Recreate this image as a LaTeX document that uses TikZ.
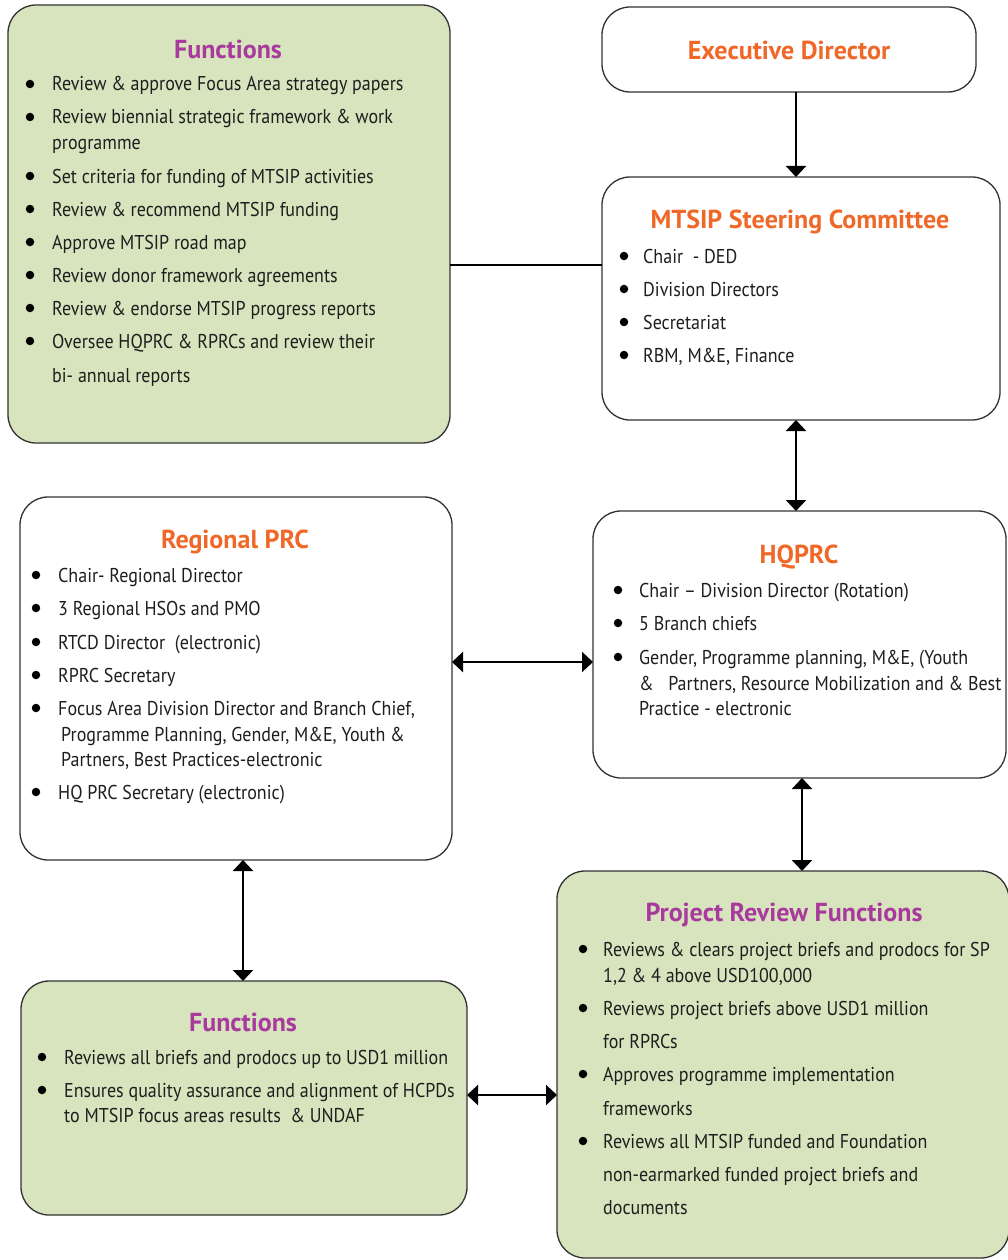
\documentclass[tikz,border=0pt]{standalone}
\usepackage{fontspec}
\setmainfont{PT Sans}
\newfontfamily\bodyfont[FakeStretch=0.9,Ligatures=TeX]{PT Sans}
\newfontfamily\titlefont[Ligatures=TeX]{PT Sans}
\usetikzlibrary{arrows.meta}
\definecolor{hdorange}{RGB}{240,104,40}
\definecolor{hdmag}{RGB}{168,58,158}
\definecolor{boxgreen}{RGB}{215,228,189}
\definecolor{edgegray}{RGB}{50,50,50}
\definecolor{bodyink}{RGB}{30,30,30}
\begin{document}
\begin{tikzpicture}[x=1pt,y=-1pt,
 panel/.style={draw=edgegray, line width=1.3pt, rounded corners=28pt, fill=white, anchor=north west, inner sep=0pt, outer sep=0pt},
 greenpanel/.style={panel, fill=boxgreen},
 ttl/.style={font=\titlefont\fontsize{26}{30}\selectfont\bfseries, inner sep=0pt},
 txt/.style={anchor=base west, inner sep=0pt, font=\bodyfont\fontsize{20}{24}\selectfont, text=bodyink},
 dot/.style={circle, fill=black, inner sep=0pt, minimum size=8.5pt},
 link/.style={line width=2.2pt, -{Triangle[width=20pt,length=11pt]}},
 dlink/.style={line width=2.2pt, {Triangle[width=20pt,length=11pt]}-{Triangle[width=20pt,length=11pt]}},
 plain/.style={line width=1.5pt},
]
\useasboundingbox (0,0) rectangle (1007,1260);

% ---- boxes ----
\node[greenpanel, minimum width=442pt, minimum height=438pt] (fun1) at (8,5) {};
\node[panel, minimum width=374pt, minimum height=85pt] (exec) at (602,7) {};
\node[panel, minimum width=398pt, minimum height=243pt] (sc) at (602,177) {};
\node[panel, minimum width=432pt, minimum height=363pt] (rprc) at (20,497) {};
\node[panel, minimum width=413pt, minimum height=267pt] (hq) at (593,511) {};
\node[greenpanel, minimum width=446pt, minimum height=234pt] (fun2) at (21,981) {};
\node[greenpanel, minimum width=452pt, minimum height=387pt] (prf) at (557,871) {};

% ---- connectors ----
\coordinate (vx1) at (796,0);
\coordinate (vx2) at (802,0);
\coordinate (vx3) at (243,0);
\coordinate (hy1) at (0,265);
\coordinate (hy2) at (0,662);
\coordinate (hy3) at (0,1095);
\draw[link] (exec.south -| vx1) -- (sc.north -| vx1);
\draw[dlink] (sc.south -| vx1) -- (hq.north -| vx1);
\draw[plain] (fun1.east |- hy1) -- (sc.west |- hy1);
\draw[dlink] (rprc.east |- hy2) -- (hq.west |- hy2);
\draw[dlink] (hq.south -| vx2) -- (prf.north -| vx2);
\draw[dlink] (rprc.south -| vx3) -- (fun2.north -| vx3);
\draw[dlink] (fun2.east |- hy3) -- (prf.west |- hy3);

% ---- Functions (top) ----
\node[ttl, text=hdmag] (fun1t) at (228,49) {Functions};
\node[dot] (f1d1) at (30,84) {};
\node[txt] (f1l1) at (52,91) {Review \& approve Focus Area strategy papers};
\node[dot] (f1d2) at (30,117) {};
\node[txt] (f1l2) at (52,124) {Review biennial strategic framework \& work};
\node[txt] (f1l3) at (52,150) {programme};
\node[dot] (f1d4) at (30,176) {};
\node[txt] (f1l4) at (52,183) {Set criteria for funding of MTSIP activities};
\node[dot] (f1d5) at (30,209) {};
\node[txt] (f1l5) at (52,216) {Review \& recommend MTSIP funding};
\node[dot] (f1d6) at (30,242) {};
\node[txt] (f1l6) at (52,249) {Approve MTSIP road map};
\node[dot] (f1d7) at (30,275) {};
\node[txt] (f1l7) at (52,282) {Review donor framework agreements};
\node[dot] (f1d8) at (30,308) {};
\node[txt] (f1l8) at (52,315) {Review \& endorse MTSIP progress reports};
\node[dot] (f1d9) at (30,341) {};
\node[txt] (f1l9) at (52,348) {Oversee HQPRC \& RPRCs and review their};
\node[txt] (f1l10) at (52,382) {bi- annual reports};

% ---- Executive Director ----
\node[ttl, text=hdorange] (exect) at (789,50) {Executive Director};

% ---- Steering Committee ----
\node[ttl, text=hdorange] (sct) at (800,222) {MTSIP Steering Committee};
\node[dot] (scd1) at (624,256) {};
\node[txt] (scl1) at (643,263) {Chair\ \ - DED};
\node[dot] (scd2) at (624,289) {};
\node[txt] (scl2) at (643,296) {Division Directors};
\node[dot] (scd3) at (624,322) {};
\node[txt] (scl3) at (643,329) {Secretariat};
\node[dot] (scd4) at (624,355) {};
\node[txt] (scl4) at (643,362) {RBM, M\&E, Finance};

% ---- Regional PRC ----
\node[ttl, text=hdorange] (rprct) at (235,542) {Regional PRC};
\node[dot] (rd1) at (36,575) {};
\node[txt] (rl1) at (58,582) {Chair- Regional Director};
\node[dot] (rd2) at (36,608) {};
\node[txt] (rl2) at (58,615) {3 Regional HSOs and PMO};
\node[dot] (rd3) at (36,642) {};
\node[txt] (rl3) at (58,649) {RTCD Director\ \ (electronic)};
\node[dot] (rd4) at (36,675) {};
\node[txt] (rl4) at (58,682) {RPRC Secretary};
\node[dot] (rd5) at (36,708) {};
\node[txt] (rl5) at (58,715) {Focus Area Division Director and Branch Chief,};
\node[txt] (rl6) at (61,741) {Programme Planning, Gender, M\&E, Youth \&};
\node[txt] (rl7) at (61,766) {Partners, Best Practices-electronic};
\node[dot] (rd8) at (36,792) {};
\node[txt] (rl8) at (58,799) {HQ PRC Secretary (electronic)};

% ---- HQPRC ----
\node[ttl, text=hdorange] (hqt) at (799,557) {HQPRC};
\node[dot] (hd1) at (618,590) {};
\node[txt] (hl1) at (639,597) {Chair – Division Director (Rotation)};
\node[dot] (hd2) at (618,623) {};
\node[txt] (hl2) at (639,630) {5 Branch chiefs};
\node[dot] (hd3) at (618,657) {};
\node[txt] (hl3) at (639,664) {Gender, Programme planning, M\&E, (Youth};
\node[txt] (hl4) at (639,690) {\&\ \ \ Partners, Resource Mobilization and \& Best};
\node[txt] (hl5) at (639,715) {Practice - electronic};

% ---- Functions (bottom) ----
\node[ttl, text=hdmag] (fun2t) at (243,1022) {Functions};
\node[dot] (f2d1) at (42,1057) {};
\node[txt] (f2l1) at (64,1064) {Reviews all briefs and prodocs up to USD1 million};
\node[dot] (f2d2) at (42,1090) {};
\node[txt] (f2l2) at (64,1097) {Ensures quality assurance and alignment of HCPDs};
\node[txt] (f2l3) at (64,1122) {to MTSIP focus areas results\ \ \& UNDAF};

% ---- Project Review Functions ----
\node[ttl, text=hdmag] (prft) at (784,915) {Project Review Functions};
\node[dot] (pd1) at (583,949) {};
\node[txt] (pl1) at (603,956) {Reviews \& clears project briefs and prodocs for SP};
\node[txt] (pl2) at (603,982) {1,2 \& 4 above USD100,000};
\node[dot] (pd3) at (583,1008) {};
\node[txt] (pl3) at (603,1015) {Reviews project briefs above USD1 million};
\node[txt] (pl4) at (603,1048) {for RPRCs};
\node[dot] (pd5) at (583,1074) {};
\node[txt] (pl5) at (603,1081) {Approves programme implementation};
\node[txt] (pl6) at (603,1115) {frameworks};
\node[dot] (pd7) at (583,1141) {};
\node[txt] (pl7) at (603,1148) {Reviews all MTSIP funded and Foundation};
\node[txt] (pl8) at (603,1181) {non-earmarked funded project briefs and};
\node[txt] (pl9) at (603,1214) {documents};
\end{tikzpicture}
\end{document}
